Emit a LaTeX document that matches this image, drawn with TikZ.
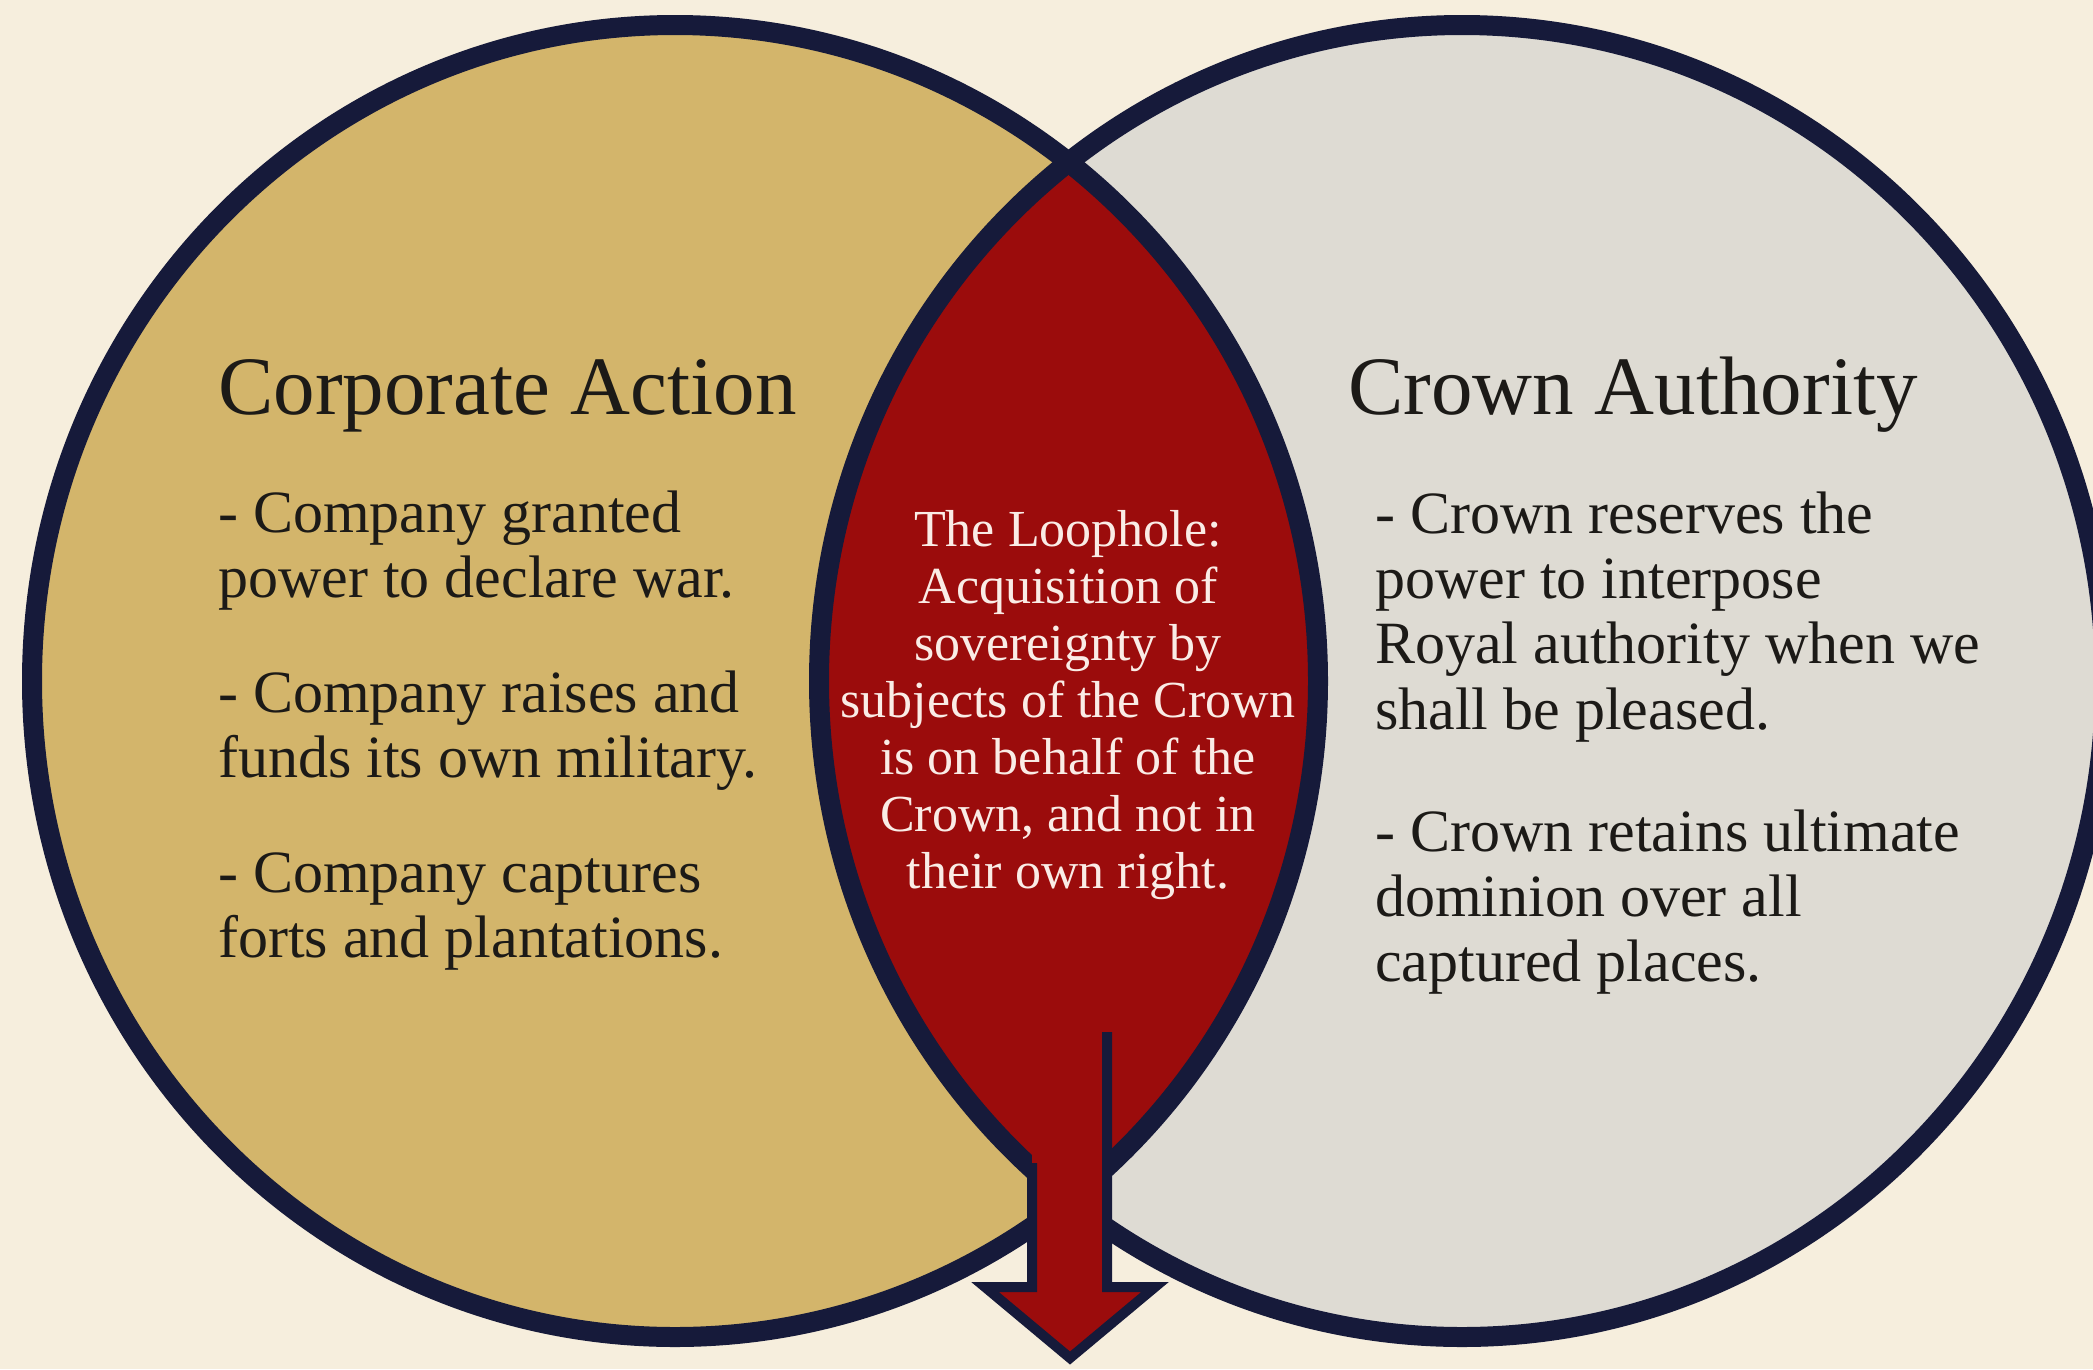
\documentclass[tikz,border=0pt]{standalone}
\usepackage{fontspec}
\setmainfont{Liberation Serif}
\definecolor{bg}{HTML}{F6EEDD}
\definecolor{gold}{HTML}{D3B56B}
\definecolor{greyc}{HTML}{DEDBD3}
\definecolor{lensred}{HTML}{9B0C0C}
\definecolor{navy}{HTML}{161A3A}
\definecolor{ink}{HTML}{1C1A17}
\definecolor{lighttext}{HTML}{FAECE6}
\begin{document}
\begin{tikzpicture}[x=1pt,y=-1pt,
  title/.style={anchor=base west,inner sep=0pt,text=ink,font=\fontsize{83}{90}\selectfont},
  body/.style={anchor=base west,inner sep=0pt,text=ink,font=\fontsize{60}{65}\selectfont},
  lenstext/.style={anchor=base,inner sep=0pt,text=lighttext,font=\fontsize{52}{57}\selectfont},
  ring/.style={draw=navy,line width=20pt},
  arrowline/.style={draw=navy,line width=10pt,line join=miter}]
\useasboundingbox (0,0) rectangle (2093,1369);
\fill[bg] (0,0) rectangle (2093,1369);
\clip (0,0) rectangle (2093,1369);
% circles
\fill[gold] (675,681) ellipse [x radius=643, y radius=656];
\fill[greyc] (1462,681) ellipse [x radius=643, y radius=656];
\begin{scope}
  \clip (675,681) ellipse [x radius=643, y radius=656];
  \fill[lensred] (1462,681) ellipse [x radius=643, y radius=656];
\end{scope}
\draw[ring] (675,681) ellipse [x radius=643, y radius=656];
\draw[ring] (1462,681) ellipse [x radius=643, y radius=656];
% arrow
\fill[lensred] (1032,1030) -- (1032,1287) -- (985,1287) -- (1070,1358) -- (1155,1287) -- (1107,1287) -- (1107,1030) -- cycle;
\draw[arrowline] (1032,1163) -- (1032,1287) -- (985,1287) -- (1070,1358) -- (1155,1287) -- (1107,1287) -- (1107,1032);
% left column
\node[title] (lt) at (218,414) {Corporate Action};
\node[body] (l1) at (218,532) {- Company granted};
\node[body] (l2) at (218,597) {power to declare war.};
\node[body] (l3) at (218,712) {- Company raises and};
\node[body] (l4) at (218,777) {funds its own military.};
\node[body] (l5) at (218,892) {- Company captures};
\node[body] (l6) at (218,957) {forts and plantations.};
% right column
\node[title] (rt) at (1348,414) {Crown Authority};
\node[body] (r1) at (1375,533) {- Crown reserves the};
\node[body] (r2) at (1375,598) {power to interpose};
\node[body] (r3) at (1375,663) {Royal authority when we};
\node[body] (r4) at (1375,729) {shall be pleased.};
\node[body] (r5) at (1375,851) {- Crown retains ultimate};
\node[body] (r6) at (1375,916) {dominion over all};
\node[body] (r7) at (1375,981) {captured places.};
% lens text
\node[lenstext] (c1) at (1068,546) {The Loophole:};
\node[lenstext] (c2) at (1068,603) {Acquisition of};
\node[lenstext] (c3) at (1068,660) {sovereignty by};
\node[lenstext] (c4) at (1068,717) {subjects of the Crown};
\node[lenstext] (c5) at (1068,774) {is on behalf of the};
\node[lenstext] (c6) at (1068,831) {Crown, and not in};
\node[lenstext] (c7) at (1068,888) {their own right.};
\end{tikzpicture}
\end{document}
